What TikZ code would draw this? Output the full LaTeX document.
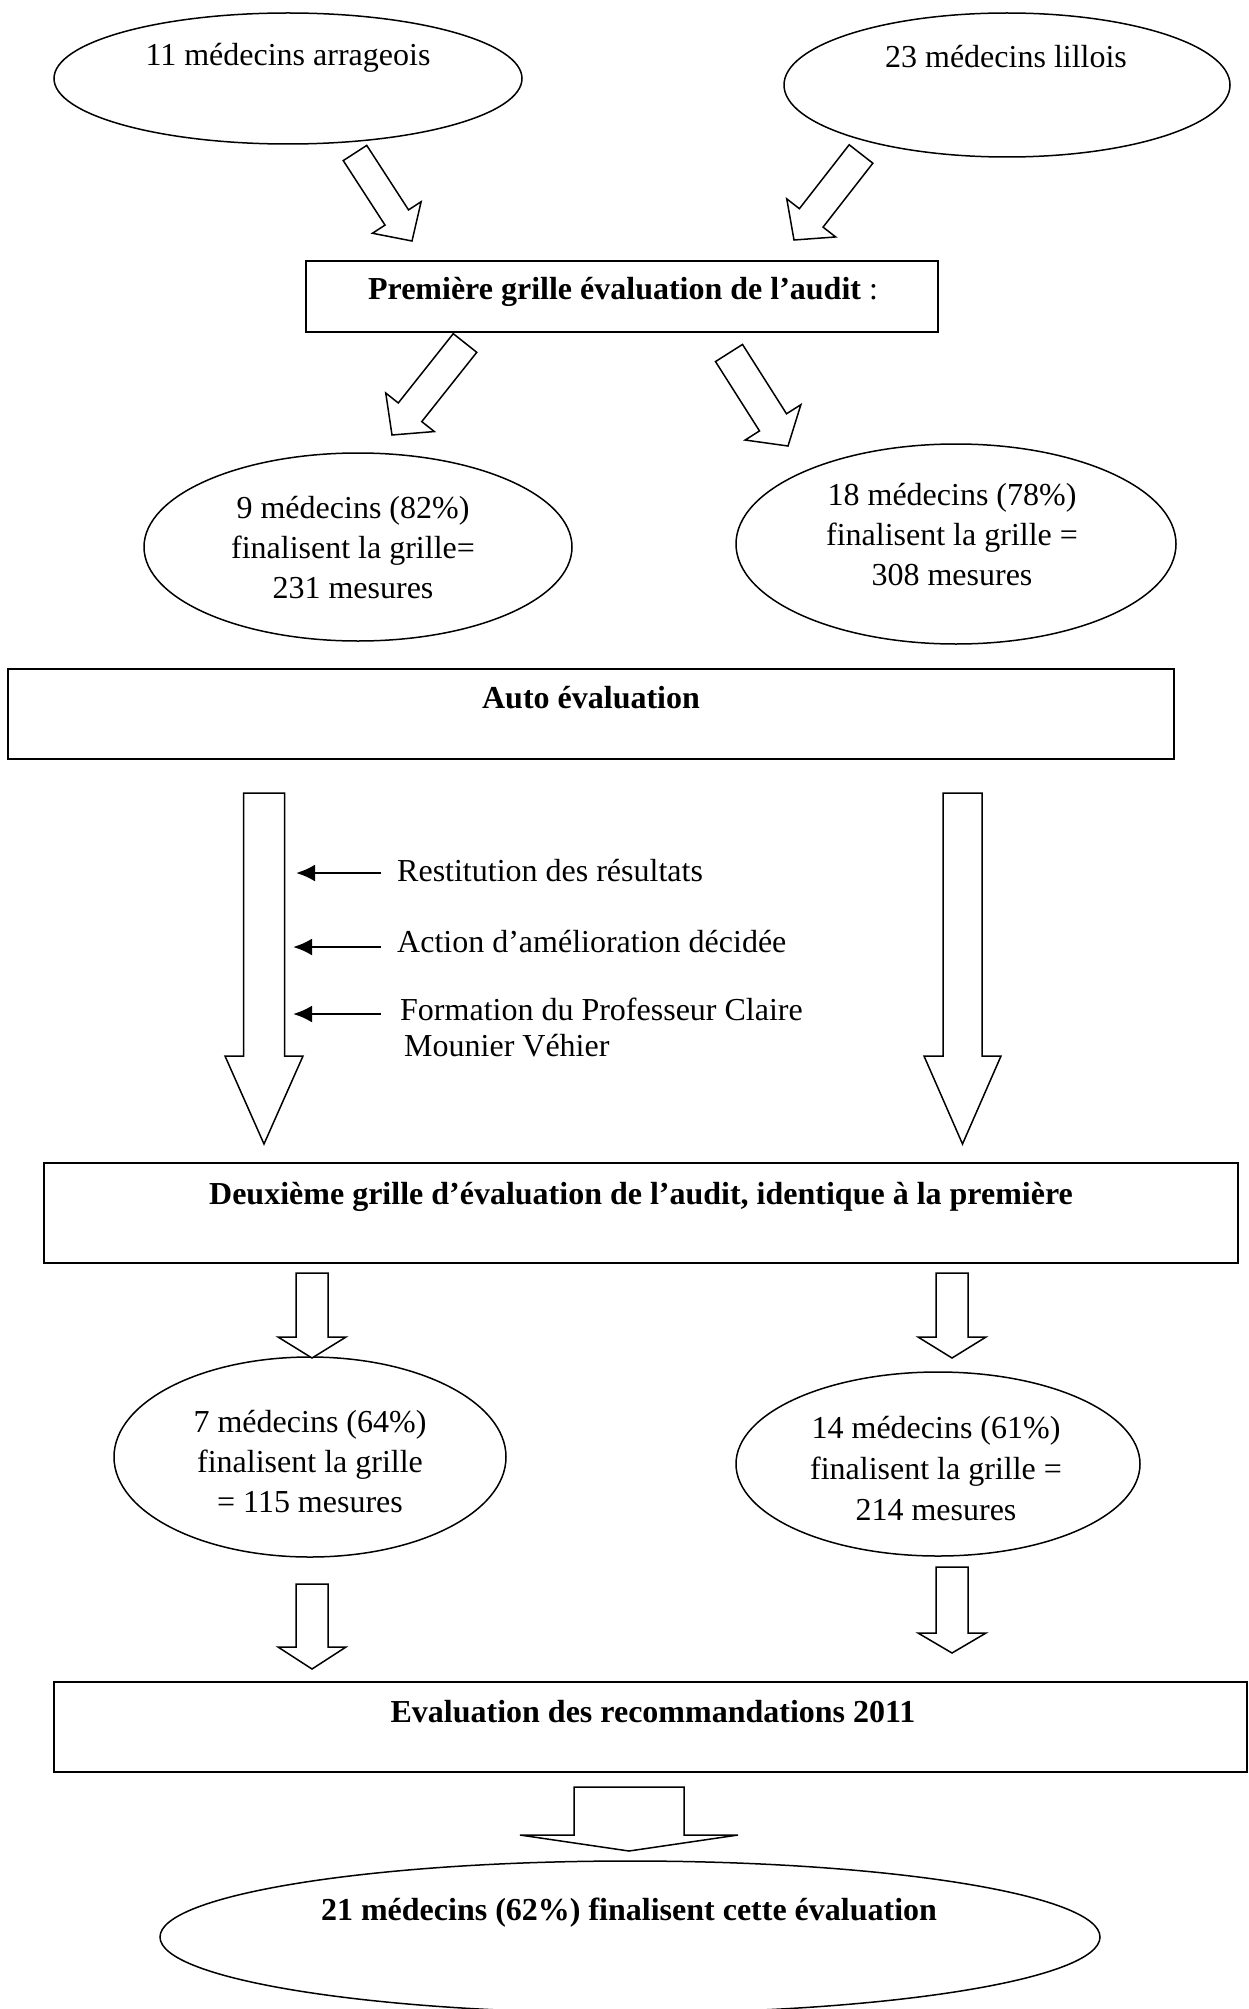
\documentclass[tikz,border=0pt]{standalone}
\usepackage{fontspec}
\setmainfont{Liberation Serif}
\usetikzlibrary{shapes.geometric,calc,arrows.meta}
\newcommand\blockarrow[6]{% #1 name, #2 tail, #3 tip, #4 half shaft, #5 half head, #6 head length
  \coordinate (#1-b) at ($(#3)!#6!(#2)$);
  \draw[blockarr] ($(#2)!#4!90:(#3)$) -- ($(#1-b)!#4!90:(#3)$) -- ($(#1-b)!#5!90:(#3)$) -- (#3)
    -- ($(#1-b)!#5!-90:(#3)$) -- ($(#1-b)!#4!-90:(#3)$) -- ($(#2)!#4!-90:(#3)$) -- cycle;
}
\tikzset{
  ell/.style={draw, ellipse, line width=1.5pt, inner sep=0pt},
  boxnode/.style={draw, rectangle, line width=2.2pt, inner sep=0pt},
  txt/.style={inner sep=0pt, anchor=base, font=\fontsize{32}{40}\selectfont},
  btxt/.style={txt, font=\fontsize{32}{40}\selectfont\bfseries},
  ltxt/.style={inner sep=0pt, anchor=base west, font=\fontsize{32}{40}\selectfont},
  blockarr/.style={draw, line width=1.5pt, fill=white, line join=miter},
  smallarr/.style={line width=2.6pt, -{Latex[length=19pt,width=17pt]}}
}
\begin{document}
\begin{tikzpicture}[x=1pt,y=-1pt]
\useasboundingbox (0,0) rectangle (1248,2009);
\fill[white] (0,0) rectangle (1248,2009);
\begin{scope}
\clip (0,0) rectangle (1248,2009);
% ellipses
\node[ell, minimum width=468pt, minimum height=131pt] (e1) at (288,78.5) {};
\node[ell, minimum width=446pt, minimum height=144pt] (e2) at (1007,85) {};
\node[ell, minimum width=428pt, minimum height=188pt] (e3) at (358,547) {};
\node[ell, minimum width=440pt, minimum height=200pt] (e4) at (956,544) {};
\node[ell, minimum width=392pt, minimum height=200pt] (e5) at (310,1457) {};
\node[ell, minimum width=404pt, minimum height=184pt] (e6) at (938,1464) {};
\node[ell, minimum width=940pt, minimum height=152pt] (e7) at (630,1937) {};
% boxes
\node[boxnode, minimum width=632pt, minimum height=71pt] (r1) at (622,296.5) {};
\node[boxnode, minimum width=1166pt, minimum height=90pt] (r2) at (591,714) {};
\node[boxnode, minimum width=1194pt, minimum height=100pt] (r3) at (641,1213) {};
\node[boxnode, minimum width=1193pt, minimum height=90pt] (r4) at (650.5,1727) {};
\end{scope}
% texts
\node[txt] (t1) at (288,66) {11 médecins arrageois};
\node[txt] (t2) at (1006,68) {23 médecins lillois};
\node[txt] (tr1) at (623,299) {\textbf{Première grille évaluation de l’audit} :};
\node[txt] (t3a) at (353,518) {9 médecins (82\%)};
\node[txt] (t3b) at (353,558) {finalisent la grille=};
\node[txt] (t3c) at (353,598) {231 mesures};
\node[txt] (t4a) at (952,505) {18 médecins (78\%)};
\node[txt] (t4b) at (952,545) {finalisent la grille =};
\node[txt] (t4c) at (952,585) {308 mesures};
\node[btxt] (tr2) at (591,708) {Auto évaluation};
\node[ltxt] (s1) at (397,881) {Restitution des résultats};
\node[ltxt] (s2) at (397,952) {Action d’amélioration décidée};
\node[ltxt] (s3) at (400,1020) {Formation du Professeur Claire};
\node[ltxt] (s3b) at (404,1056) {Mounier Véhier};
\node[btxt] (tr3) at (641,1204) {Deuxième grille d’évaluation de l’audit, identique à la première};
\node[txt] (t5a) at (310,1432) {7 médecins (64\%)};
\node[txt] (t5b) at (310,1472) {finalisent la grille};
\node[txt] (t5c) at (310,1512) {= 115 mesures};
\node[txt] (t6a) at (936,1438) {14 médecins (61\%)};
\node[txt] (t6b) at (936,1479) {finalisent la grille =};
\node[txt] (t6c) at (936,1520) {214 mesures};
\node[btxt] (tr4) at (653,1722) {Evaluation des recommandations 2011};
\node[btxt] (t7) at (629,1920) {21 médecins (62\%) finalisent cette évaluation};
% block arrows
\coordinate (a1t) at (355,153);  \coordinate (a1p) at (412,241);
\coordinate (a2t) at (861,154);  \coordinate (a2p) at (794,240);
\coordinate (a3t) at (465,343);  \coordinate (a3p) at (392,435);
\coordinate (a4t) at (729,353);  \coordinate (a4p) at (788,446);
\blockarrow{a1}{a1t}{a1p}{14pt}{29pt}{28pt}
\blockarrow{a2}{a2t}{a2p}{15pt}{31pt}{28pt}
\blockarrow{a3}{a3t}{a3p}{15pt}{31pt}{29pt}
\blockarrow{a4}{a4t}{a4p}{16pt}{33pt}{28pt}
\coordinate (bLt) at (264,793);  \coordinate (bLp) at (264,1144);
\coordinate (bRt) at (962.5,793); \coordinate (bRp) at (962.5,1144);
\blockarrow{bL}{bLt}{bLp}{20.5pt}{39pt}{88pt}
\blockarrow{bR}{bRt}{bRp}{19.5pt}{38.5pt}{88pt}
\coordinate (a5t) at (312,1273); \coordinate (a5p) at (312,1358);
\coordinate (a6t) at (952,1273); \coordinate (a6p) at (952,1358);
\coordinate (a7t) at (312,1584); \coordinate (a7p) at (312,1669);
\coordinate (a8t) at (952,1567); \coordinate (a8p) at (952,1653);
\coordinate (a9t) at (629,1787); \coordinate (a9p) at (629,1851);
\blockarrow{a5}{a5t}{a5p}{16pt}{34pt}{21pt}
\blockarrow{a6}{a6t}{a6p}{16pt}{34pt}{21pt}
\blockarrow{a7}{a7t}{a7p}{16pt}{34pt}{22pt}
\blockarrow{a8}{a8t}{a8p}{16pt}{34pt}{20pt}
\blockarrow{a9}{a9t}{a9p}{55pt}{109pt}{16pt}
% small arrows
\coordinate (s1e) at (296,873); \coordinate (s1s) at (381,873);
\coordinate (s2e) at (293,947); \coordinate (s2s) at (381,947);
\coordinate (s3e) at (293,1014); \coordinate (s3s) at (381,1014);
\draw[smallarr] (s1s) -- (s1e);
\draw[smallarr] (s2s) -- (s2e);
\draw[smallarr] (s3s) -- (s3e);
\end{tikzpicture}
\end{document}
